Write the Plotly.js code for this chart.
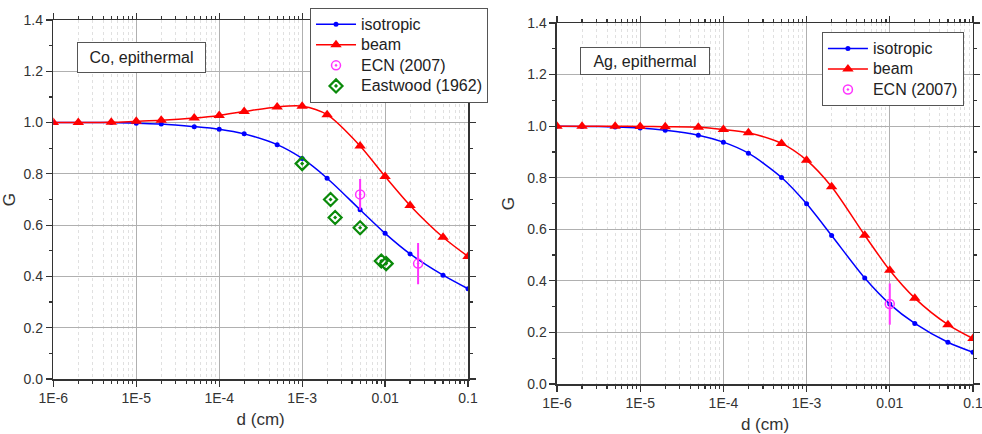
<!DOCTYPE html>
<html>
<head>
<meta charset="utf-8">
<script src="https://cdn.plot.ly/plotly-3.0.1.min.js"></script>
<style>html,body{margin:0;padding:0;background:#fff}#chart{width:982px;height:434px}</style>
</head>
<body>
<div id="chart"></div>
<script>
// ---- data ----
const d = [1e-6, 2e-6, 5e-6, 1e-5, 2e-5, 5e-5, 1e-4, 2e-4, 5e-4, 1e-3, 2e-3, 5e-3, 1e-2, 2e-2, 5e-2, 0.1];

// Co, epithermal
const coIsotropic = [1.0, 1.0, 1.0, 0.997, 0.994, 0.984, 0.974, 0.956, 0.914, 0.860, 0.783, 0.660, 0.568, 0.488, 0.405, 0.352];
const coBeam = [1.0, 1.0, 1.001, 1.005, 1.009, 1.018, 1.028, 1.043, 1.061, 1.064, 1.031, 0.909, 0.790, 0.677, 0.553, 0.478];
const coEcnX = [0.005, 0.025];
const coEcnY = [0.72, 0.45];
const coEcnErr = [0.06, 0.08];
const coEastX = [0.001, 0.0022, 0.0025, 0.005, 0.009, 0.0103];
const coEastY = [0.84, 0.70, 0.63, 0.59, 0.46, 0.45];

// Ag, epithermal
const agIsotropic = [1.0, 0.999, 0.997, 0.993, 0.984, 0.965, 0.938, 0.895, 0.801, 0.699, 0.576, 0.411, 0.310, 0.235, 0.162, 0.123];
const agBeam = [1.0, 1.0, 1.0, 0.999, 0.998, 0.996, 0.987, 0.974, 0.933, 0.868, 0.765, 0.577, 0.441, 0.333, 0.230, 0.176];
const agEcnX = [0.01];
const agEcnY = [0.31];
const agEcnErr = [0.08];

const seriesNames = ['isotropic', 'beam', 'ECN (2007)', 'Eastwood (1962)'];
const panelLabels = ['Co, epithermal', 'Ag, epithermal'];
const xTickVals = [1e-6, 1e-5, 1e-4, 1e-3, 1e-2, 0.1];
const xTickText = ['1E-6', '1E-5', '1E-4', '1E-3', '0.01', '0.1'];
const yTickVals = [0, 0.2, 0.4, 0.6, 0.8, 1.0, 1.2, 1.4];
const yTickText = ['0.0', '0.2', '0.4', '0.6', '0.8', '1.0', '1.2', '1.4'];

// ---- styles ----
const BLUE = '#0000ff', RED = '#ff0000', MAG = '#ff33ff', GREEN = '#0a8a0a';
const FONT = 'Liberation Sans, Arial, sans-serif';
const lname = s => '<span style="font-size:16px">' + s + '</span>';

function isoTrace(y, xa, ya, lg) {
  return {x: d, y: y, xaxis: xa, yaxis: ya, legend: lg, name: lname(seriesNames[0]), type: 'scatter', mode: 'lines+markers',
    line: {color: BLUE, width: 1.5, shape: 'spline', smoothing: 0.8}, marker: {symbol: 'circle', size: 5, color: BLUE}};
}
function beamTrace(y, xa, ya, lg) {
  return {x: d, y: y, xaxis: xa, yaxis: ya, legend: lg, name: lname(seriesNames[1]), type: 'scatter', mode: 'lines+markers',
    line: {color: RED, width: 1.5, shape: 'spline', smoothing: 0.8}, marker: {symbol: 'triangle-up', size: 10, color: RED}};
}
function ecnTrace(x, y, err, xa, ya, lg) {
  return {x: x, y: y, xaxis: xa, yaxis: ya, legend: lg, name: lname(seriesNames[2]), type: 'scatter', mode: 'markers',
    marker: {symbol: 'circle-open-dot', size: 9, color: MAG, line: {width: 1.5, color: MAG}},
    error_y: {type: 'data', array: err, visible: true, color: MAG, thickness: 2, width: 0}};
}

const traces = [
  isoTrace(coIsotropic, 'x', 'y', 'legend'),
  beamTrace(coBeam, 'x', 'y', 'legend'),
  ecnTrace(coEcnX, coEcnY, coEcnErr, 'x', 'y', 'legend'),
  {x: coEastX, y: coEastY, xaxis: 'x', yaxis: 'y', legend: 'legend', name: lname(seriesNames[3]), type: 'scatter', mode: 'markers',
    marker: {symbol: 'diamond-open-dot', size: 10, color: GREEN, line: {width: 2.2, color: GREEN}}},
  isoTrace(agIsotropic, 'x2', 'y2', 'legend2'),
  beamTrace(agBeam, 'x2', 'y2', 'legend2'),
  ecnTrace(agEcnX, agEcnY, agEcnErr, 'x2', 'y2', 'legend2')
];

function xAxis(domain, anchor) {
  return {type: 'log', domain: domain, anchor: anchor, range: [-6, -1],
    tickvals: xTickVals, ticktext: xTickText, ticks: 'outside', ticklen: 6, tickwidth: 1.2, tickcolor: '#333',
    ticklabeloverflow: 'allow',
    showline: true, linecolor: '#333', linewidth: 1.5, mirror: 'ticks',
    showgrid: true, gridcolor: '#b0b0b0', gridwidth: 1,
    minor: {dtick: 'D1', ticks: 'outside', ticklen: 3, tickcolor: '#333', showgrid: true, gridcolor: '#e0e0e0', griddash: 'dot', gridwidth: 1},
    tickfont: {family: FONT, size: 14, color: '#333'},
    title: {text: 'd (cm)', font: {family: FONT, size: 17, color: '#333'}, standoff: 8},
    zeroline: false};
}
function yAxis(domain, anchor) {
  return {domain: domain, anchor: anchor, range: [0, 1.4],
    tickvals: yTickVals, ticktext: yTickText, ticks: 'outside', ticklen: 6, tickwidth: 1.2, tickcolor: '#333',
    showline: true, linecolor: '#333', linewidth: 1.5, mirror: 'ticks',
    showgrid: true, gridcolor: '#b0b0b0', gridwidth: 1,
    minor: {dtick: 0.1, ticks: 'outside', ticklen: 3, tickcolor: '#333', showgrid: false},
    tickfont: {family: FONT, size: 14, color: '#333'},
    title: {text: 'G', font: {family: FONT, size: 17, color: '#333'}, standoff: 8},
    zeroline: false};
}

const legendCommon = {xanchor: 'left', yanchor: 'top', bgcolor: '#fff', bordercolor: '#555', borderwidth: 1,
  font: {family: FONT, size: 13.5, color: '#222'}, tracegroupgap: 0, itemwidth: 40};

const layout = {
  width: 982, height: 434,
  margin: {l: 0, r: 0, t: 0, b: 0},
  paper_bgcolor: '#fff', plot_bgcolor: '#fff',
  xaxis: xAxis([0.0543, 0.4766], 'y'),
  yaxis: yAxis([0.1267, 0.9539], 'x'),
  xaxis2: xAxis([0.5672, 0.9908], 'y2'),
  yaxis2: yAxis([0.1152, 0.9470], 'x2'),
  showlegend: true,
  legend: Object.assign({x: 0.3157, y: 0.9816}, legendCommon),
  legend2: Object.assign({x: 0.837, y: 0.926}, legendCommon),
  annotations: [
    {text: panelLabels[0], xref: 'paper', yref: 'paper', x: 141.5 / 982, y: 1 - 57.5 / 434, xanchor: 'center', yanchor: 'middle',
      showarrow: false, font: {family: FONT, size: 16, color: '#222'}, bordercolor: '#555', borderwidth: 1, width: 125, height: 27, bgcolor: '#fff'},
    {text: panelLabels[1], xref: 'paper', yref: 'paper', x: 645 / 982, y: 1 - 61 / 434, xanchor: 'center', yanchor: 'middle',
      showarrow: false, font: {family: FONT, size: 16, color: '#222'}, bordercolor: '#555', borderwidth: 1, width: 126, height: 24, bgcolor: '#fff'}
  ]
};

Plotly.newPlot('chart', traces, layout, {displayModeBar: false, staticPlot: true});
</script>
</body>
</html>
